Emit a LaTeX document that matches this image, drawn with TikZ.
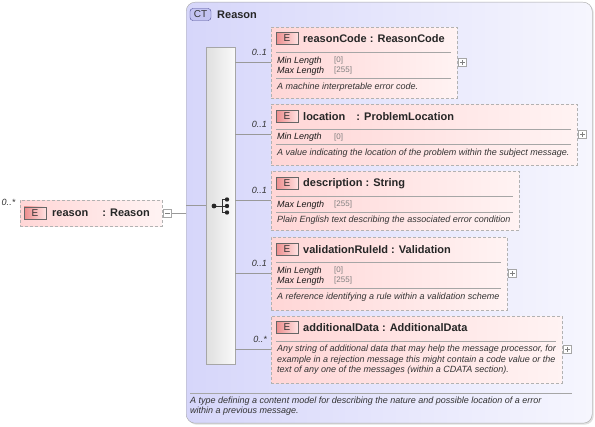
\documentclass[tikz,border=0pt]{standalone}
\usepackage{fontspec}
\setmainfont{Liberation Sans}
\usetikzlibrary{shadows}

\definecolor{ctg}{RGB}{214,214,250}
\definecolor{ctd}{RGB}{246,246,254}
\definecolor{ctb}{RGB}{196,196,242}
\definecolor{elg}{RGB}{255,214,214}
\definecolor{eld}{RGB}{255,243,243}
\definecolor{badgeg}{RGB}{236,140,140}
\definecolor{badged}{RGB}{255,226,226}

\begin{document}
\begin{tikzpicture}[x=1pt,y=-1pt]
	% Styles des boites du schema
	\tikzset{
		ctbox/.style={draw=gray!70, rounded corners=9pt, left color=ctg, right color=ctd, anchor=north west, inner sep=0pt, drop shadow={opacity=0.25, shadow xshift=1.5pt, shadow yshift=-1.5pt}},
		ctbadge/.style={draw=black!60!blue!70, fill=ctb, rounded corners=3pt, minimum width=21pt, minimum height=12pt, inner sep=0pt, font=\fontsize{10}{12}\selectfont, text=black!80},
		elem/.style={draw=gray!60, dash pattern=on 3pt off 2pt, left color=elg, right color=eld, anchor=north west, inner sep=0pt},
		badgeE/.style={draw=black!60, left color=badgeg, right color=badged, minimum width=22pt, minimum height=12pt, inner sep=0pt, font=\fontsize{10}{12}\selectfont, text=black!80},
		seqbar/.style={draw=gray!70, left color=gray!25, right color=gray!4, anchor=north west, inner sep=0pt},
		titre/.style={font=\bfseries\fontsize{11}{13}\selectfont, text=black!85, anchor=west, inner sep=0pt},
		facette/.style={font=\itshape\fontsize{9}{10}\selectfont, text=black!90, anchor=west, inner sep=0pt},
		valeur/.style={font=\fontsize{8}{9}\selectfont, text=gray, anchor=west, inner sep=0pt},
		doc/.style={font=\itshape\fontsize{9}{10.6}\selectfont, text=black!80, anchor=west, inner sep=0pt, align=left},
		card/.style={font=\itshape\fontsize{9}{10}\selectfont, text=black!80, inner sep=0pt},
		sep/.style={draw=gray!70, line width=0.6pt},
		lien/.style={draw=gray!80, line width=0.6pt},
		plus/.style={draw=gray!70, fill=white, minimum size=8pt, inner sep=0pt, path picture={
			\draw[gray] ([xshift=1.8pt]path picture bounding box.west) -- ([xshift=-1.8pt]path picture bounding box.east);
			\draw[gray] ([yshift=-1.8pt]path picture bounding box.north) -- ([yshift=1.8pt]path picture bounding box.south);}},
		moins/.style={draw=gray!70, fill=white, minimum size=8pt, inner sep=0pt, path picture={
			\draw[gray] ([xshift=1.8pt]path picture bounding box.west) -- ([xshift=-1.8pt]path picture bounding box.east);}}
	}
	\useasboundingbox (0,0) rectangle (595,427);

	% Type complexe
	\node[ctbox, minimum width=406pt, minimum height=421pt] (ct) at (186,2) {};
	\node[ctbadge] (ctB) at (200.5,14.5) {CT};
	\node[titre] (ctT) at (217,14.5) {Reason};
	\draw[sep] (190,393) -- (572,393);
	\node[doc] (ctD) at (190,406) {A type defining a content model for describing the nature and possible location of a error\\within a previous message.};

	% Element racine
	\node[elem, minimum width=142pt, minimum height=26pt] (re) at (20,200) {};
	\node[badgeE] (reE) at (35,213) {E};
	\node[titre] (reT) at (52,213) {reason\hspace{11pt} : Reason};
	\node[card] (reC) at (8.5,202) {0..*};
	\node[moins, anchor=west] (reM) at ([xshift=1pt]re.east) {};

	% Sequence
	\node[seqbar, minimum width=29pt, minimum height=317pt] (seq) at (206,47) {};
	\draw[black!80, line width=0.8pt] (214,206) -- (222,206) (222,199.5) -- (222,212.5) (222,199.5) -- (227,199.5) (222,212.5) -- (227,212.5) (222,206) -- (227,206);
	\fill[black!85] (214,206) circle (2.4) (227,199.5) circle (2.2) (227,206) circle (2.2) (227,212.5) circle (2.2);
	\draw[lien] (reM.east) -- (reM.east -| ct.west);
	\draw[lien] (seq.west -| ct.west) -- (seq.west);

	% reasonCode
	\node[elem, minimum width=186pt, minimum height=71pt] (rc) at (271,27) {};
	\node[badgeE] (rcE) at (287,38.5) {E};
	\node[titre] (rcT) at (303,38.5) {reasonCode : ReasonCode};
	\draw[sep] (276,52) -- (451,52);
	\node[facette] (rcMin) at (277,61) {Min Length};
	\node[valeur] (rcMinV) at (334,60.5) {[0]};
	\node[facette] (rcMax) at (277,71) {Max Length};
	\node[valeur] (rcMaxV) at (334,70.5) {[255]};
	\draw[sep] (276,78) -- (451,78);
	\node[doc] (rcD) at (277,87.5) {A machine interpretable error code.};
	\node[plus, anchor=west] (rcP) at ([xshift=1pt]rc.east) {};
	\node[card, anchor=east] (rcC) at (267,52.5) {0..1};
	\draw[lien] (seq.east |- rc.west) -- (rc.west);

	% location
	\node[elem, minimum width=306pt, minimum height=61pt] (lo) at (271,104) {};
	\node[badgeE] (loE) at (287,116.5) {E};
	\node[titre] (loT) at (303,116.5) {location\hspace{8pt} : ProblemLocation};
	\draw[sep] (276,129) -- (571,129);
	\node[facette] (loMin) at (277,137.5) {Min Length};
	\node[valeur] (loMinV) at (334,137) {[0]};
	\draw[sep] (276,144.5) -- (571,144.5);
	\node[doc] (loD) at (277,153.5) {A value indicating the location of the problem within the subject message.};
	\node[plus, anchor=west] (loP) at ([xshift=1pt]lo.east) {};
	\node[card, anchor=east] (loC) at (267,124) {0..1};
	\draw[lien] (seq.east |- lo.west) -- (lo.west);

	% description
	\node[elem, minimum width=248pt, minimum height=59pt] (de) at (271,171) {};
	\node[badgeE] (deE) at (287,183.5) {E};
	\node[titre] (deT) at (303,183.5) {description : String};
	\draw[sep] (276,196.5) -- (513,196.5);
	\node[facette] (deMax) at (277,205) {Max Length};
	\node[valeur] (deMaxV) at (334,204.5) {[255]};
	\draw[sep] (276,212) -- (513,212);
	\node[doc] (deD) at (277,220.5) {Plain English text describing the associated error condition};
	\node[card, anchor=east] (deC) at (267,190) {0..1};
	\draw[lien] (seq.east |- de.west) -- (de.west);

	% validationRuleId
	\node[elem, minimum width=236pt, minimum height=73pt] (va) at (271,237) {};
	\node[badgeE] (vaE) at (287,249.5) {E};
	\node[titre] (vaT) at (303,249.5) {validationRuleId : Validation};
	\draw[sep] (276,262.5) -- (501,262.5);
	\node[facette] (vaMin) at (277,271) {Min Length};
	\node[valeur] (vaMinV) at (334,270.5) {[0]};
	\node[facette] (vaMax) at (277,281) {Max Length};
	\node[valeur] (vaMaxV) at (334,280.5) {[255]};
	\draw[sep] (276,288.5) -- (501,288.5);
	\node[doc] (vaD) at (277,297.5) {A reference identifying a rule within a validation scheme};
	\node[plus, anchor=west] (vaP) at ([xshift=1pt]va.east) {};
	\node[card, anchor=east] (vaC) at (267,263) {0..1};
	\draw[lien] (seq.east |- va.west) -- (va.west);

	% additionalData
	\node[elem, minimum width=291pt, minimum height=67pt] (ad) at (271,316) {};
	\node[badgeE] (adE) at (287,327.5) {E};
	\node[titre] (adT) at (303,327.5) {additionalData : AdditionalData};
	\draw[sep] (276,341) -- (556,341);
	\node[doc] (adD) at (277,360) {Any string of additional data that may help the message processor, for\\example in a rejection message this might contain a code value or the\\text of any one of the messages (within a CDATA section).};
	\node[plus, anchor=west] (adP) at ([xshift=1pt]ad.east) {};
	\node[card, anchor=east] (adC) at (267,339) {0..*};
	\draw[lien] (seq.east |- ad.west) -- (ad.west);
\end{tikzpicture}
\end{document}
